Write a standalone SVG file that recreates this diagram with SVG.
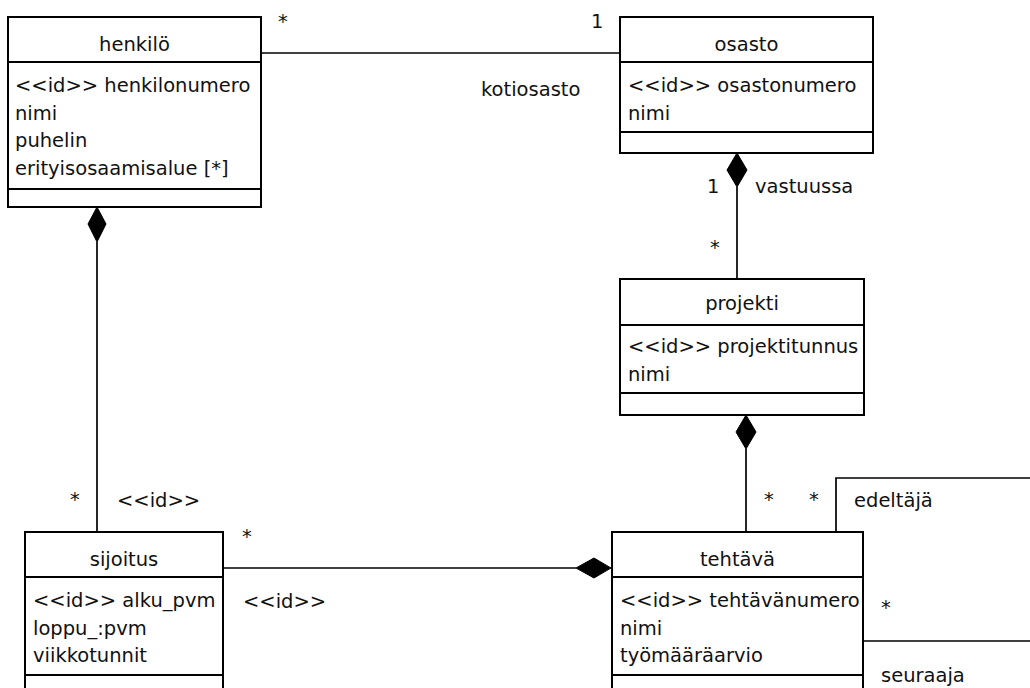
<svg xmlns="http://www.w3.org/2000/svg" width="1030" height="688" viewBox="0 0 1030 688">
<style>
.box{fill:#fff;stroke:#000;stroke-width:2}
.div{stroke:#000;stroke-width:2}
.con{fill:none;stroke:#000;stroke-width:1.7}
.dia{fill:#000;stroke:#000;stroke-width:1}
text{font-family:"DejaVu Sans",Verdana,sans-serif;font-size:19.5px;fill:#111}
.t{text-anchor:middle}
</style>
<rect width="1030" height="688" fill="#fff"/>
<g id="connectors">
<line class="con" x1="261" y1="53" x2="620" y2="53"/>
<line class="con" x1="737" y1="187" x2="737" y2="279"/>
<polygon class="dia" points="737,153 747,170 737,187 727,170"/>
<line class="con" x1="746" y1="449" x2="746" y2="532"/>
<polygon class="dia" points="746,415 756,432 746,449 736,432"/>
<line class="con" x1="97" y1="242" x2="97" y2="532"/>
<polygon class="dia" points="97,207 106,224 97,242 88,224"/>
<line class="con" x1="223" y1="568" x2="576" y2="568"/>
<polygon class="dia" points="611,568 594,558 576,568 594,578"/>
<polyline class="con" points="836,532 836,478 1032,478"/>
<line class="con" x1="863" y1="641" x2="1032" y2="641"/>
<text x="278" y="28">*</text>
<text x="591" y="28">1</text>
<text x="481" y="96">kotiosasto</text>
<text x="707" y="193">1</text>
<text x="755" y="193">vastuussa</text>
<text x="710" y="254">*</text>
<text x="70" y="506">*</text>
<text x="117" y="507">&lt;&lt;id&gt;&gt;</text>
<text x="242" y="543">*</text>
<text x="243" y="608">&lt;&lt;id&gt;&gt;</text>
<text x="764" y="506">*</text>
<text x="809" y="506">*</text>
<text x="854" y="507">edeltäjä</text>
<text x="881" y="614">*</text>
<text x="881" y="682">seuraaja</text>
</g>
<g id="henkilo">
<rect class="box" x="8" y="17" width="253" height="190"/>
<line class="div" x1="8" y1="62" x2="261" y2="62"/>
<line class="div" x1="8" y1="189" x2="261" y2="189"/>
<text class="t" x="134.5" y="51">henkilö</text>
<text x="15" y="92">&lt;&lt;id&gt;&gt; henkilonumero</text>
<text x="15" y="120">nimi</text>
<text x="15" y="147">puhelin</text>
<text x="15" y="175">erityisosaamisalue [*]</text>
</g>
<g id="osasto">
<rect class="box" x="620" y="17" width="253" height="136"/>
<line class="div" x1="620" y1="62" x2="873" y2="62"/>
<line class="div" x1="620" y1="132" x2="873" y2="132"/>
<text class="t" x="746.5" y="51">osasto</text>
<text x="628" y="92">&lt;&lt;id&gt;&gt; osastonumero</text>
<text x="628" y="120">nimi</text>
</g>
<g id="projekti">
<rect class="box" x="620" y="279" width="244" height="136"/>
<line class="div" x1="620" y1="325" x2="864" y2="325"/>
<line class="div" x1="620" y1="393" x2="864" y2="393"/>
<text class="t" x="742" y="310">projekti</text>
<text x="628" y="353">&lt;&lt;id&gt;&gt; projektitunnus</text>
<text x="628" y="381">nimi</text>
</g>
<g id="sijoitus">
<rect class="box" x="25" y="532" width="198" height="170"/>
<line class="div" x1="25" y1="577" x2="223" y2="577"/>
<line class="div" x1="25" y1="675" x2="223" y2="675"/>
<text class="t" x="124" y="566">sijoitus</text>
<text x="33" y="607">&lt;&lt;id&gt;&gt; alku_pvm</text>
<text x="33" y="635">loppu_:pvm</text>
<text x="33" y="662">viikkotunnit</text>
</g>
<g id="tehtava">
<rect class="box" x="612" y="532" width="251" height="170"/>
<line class="div" x1="612" y1="577" x2="863" y2="577"/>
<line class="div" x1="612" y1="675" x2="863" y2="675"/>
<text class="t" x="737.5" y="566">tehtävä</text>
<text x="620" y="607">&lt;&lt;id&gt;&gt; tehtävänumero</text>
<text x="620" y="635">nimi</text>
<text x="620" y="662">työmääräarvio</text>
</g>
</svg>
